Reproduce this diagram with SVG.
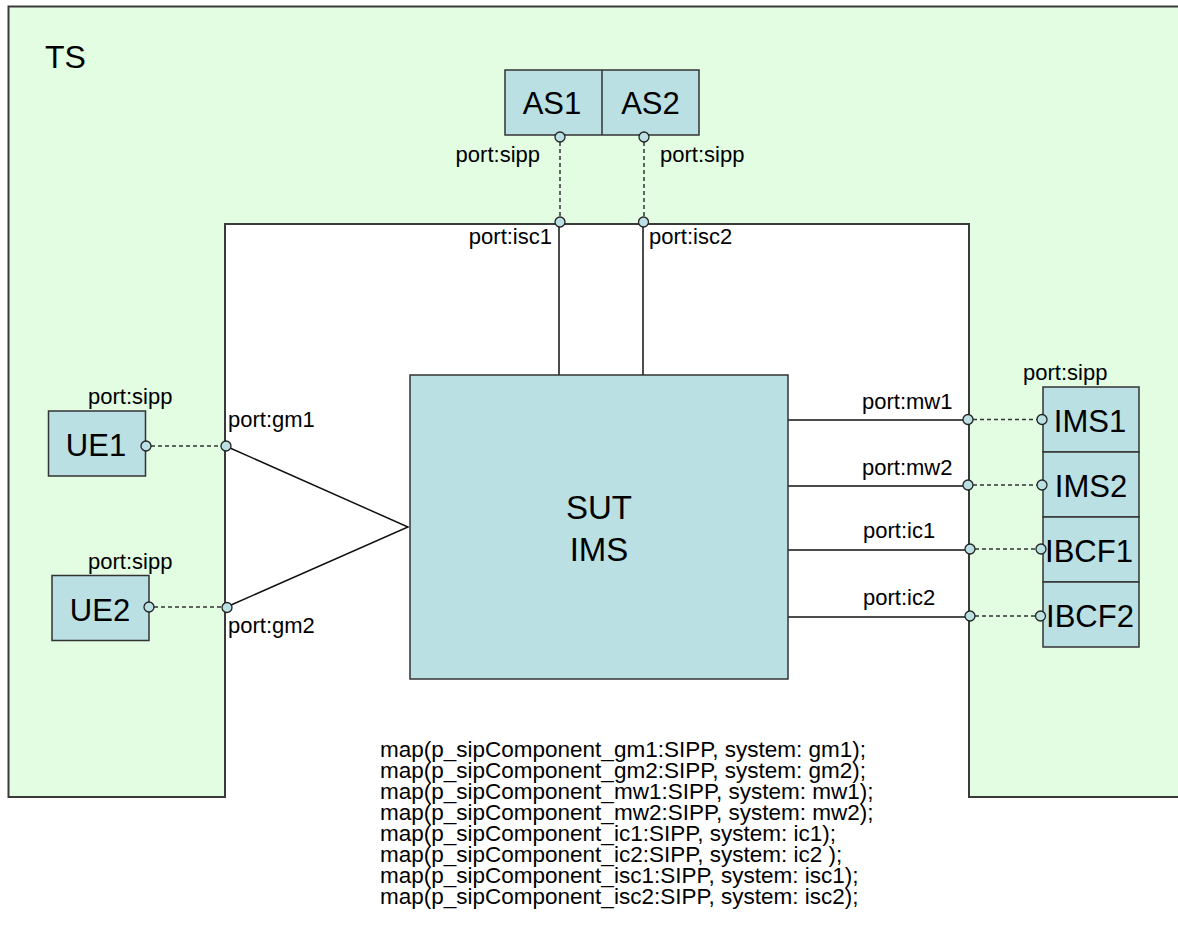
<svg xmlns="http://www.w3.org/2000/svg" width="1178" height="949" viewBox="0 0 1178 949">
<style>
.box{fill:#BBE0E3;stroke:#333;stroke-width:1.5}
.port{fill:#BBE0E3;stroke:#222;stroke-width:1.3}
.ln{stroke:#111;stroke-width:1.5;fill:none}
.dash{stroke:#333;stroke-width:1.5;stroke-dasharray:4 3;fill:none}
.big{font-family:"Liberation Sans",Arial,sans-serif;font-size:31px;fill:#000}
.sut{font-family:"Liberation Sans",Arial,sans-serif;font-size:33px;fill:#000}
.lbl{font-family:"Liberation Sans",Arial,sans-serif;font-size:22px;fill:#000}
.map{font-family:"Liberation Sans",Arial,sans-serif;font-size:22.5px;fill:#000}
</style>
<rect width="1178" height="949" fill="#fff"/>
<g id="TS">
<path d="M8.5,6.5 H1186 V797 H969 V224 H225 V797 H8.5 Z" fill="#E3FDE3" stroke="#3a3a3a" stroke-width="2"/>
<text class="sut" x="45" y="68" style="font-size:32px">TS</text>
</g>
<g id="connectors">
<line class="dash" x1="560" y1="142" x2="560" y2="217"/>
<line class="dash" x1="644" y1="142" x2="644" y2="217"/>
<line class="ln" x1="559" y1="227" x2="559" y2="375"/>
<line class="ln" x1="643" y1="227" x2="643" y2="375"/>
<line class="dash" x1="151" y1="446" x2="221" y2="446"/>
<line class="dash" x1="154" y1="607" x2="222" y2="607"/>
<polyline class="ln" points="230,448 408,527 231,605"/>
<line class="ln" x1="788" y1="420" x2="963" y2="420"/>
<line class="ln" x1="788" y1="486" x2="963" y2="486"/>
<line class="ln" x1="788" y1="550" x2="965" y2="550"/>
<line class="ln" x1="788" y1="617" x2="965" y2="617"/>
<line class="dash" x1="973" y1="419.5" x2="1037" y2="419.5"/>
<line class="dash" x1="973" y1="485" x2="1037" y2="485"/>
<line class="dash" x1="975" y1="549" x2="1036" y2="549"/>
<line class="dash" x1="975" y1="616" x2="1035" y2="616"/>
</g>
<g id="AS">
<rect class="box" x="505" y="70" width="194" height="65"/>
<line x1="602" y1="70" x2="602" y2="135" stroke="#333" stroke-width="1.5"/>
<text class="big" x="552" y="114" text-anchor="middle">AS1</text>
<text class="big" x="650.5" y="114" text-anchor="middle">AS2</text>
<circle class="port" cx="560" cy="137" r="5"/>
<circle class="port" cx="644" cy="137" r="5"/>
<text class="lbl" x="540" y="162" text-anchor="end">port:sipp</text>
<text class="lbl" x="660" y="162">port:sipp</text>
</g>
<g id="SUT">
<rect class="box" x="410" y="375" width="378" height="304"/>
<text class="sut" x="599" y="519" text-anchor="middle">SUT</text>
<text class="sut" x="599" y="561" text-anchor="middle">IMS</text>
<circle class="port" cx="560" cy="222" r="5"/>
<circle class="port" cx="643.5" cy="222" r="5"/>
<text class="lbl" x="552" y="244" text-anchor="end">port:isc1</text>
<text class="lbl" x="649" y="244">port:isc2</text>
<circle class="port" cx="226" cy="446" r="5"/>
<circle class="port" cx="227" cy="607.5" r="5"/>
<text class="lbl" x="228" y="427">port:gm1</text>
<text class="lbl" x="228" y="633">port:gm2</text>
<circle class="port" cx="968" cy="419.5" r="5"/>
<circle class="port" cx="968" cy="485" r="5"/>
<circle class="port" cx="970" cy="549" r="5"/>
<circle class="port" cx="970" cy="616" r="5"/>
<text class="lbl" x="862" y="409">port:mw1</text>
<text class="lbl" x="862" y="475">port:mw2</text>
<text class="lbl" x="863" y="538">port:ic1</text>
<text class="lbl" x="863" y="605">port:ic2</text>
</g>
<g id="UE1">
<rect class="box" x="48.5" y="411" width="97" height="65"/>
<text class="big" x="96" y="456" text-anchor="middle">UE1</text>
<circle class="port" cx="146" cy="446" r="5"/>
<text class="lbl" x="88" y="404">port:sipp</text>
</g>
<g id="UE2">
<rect class="box" x="52" y="575.5" width="97" height="65"/>
<text class="big" x="100" y="621" text-anchor="middle">UE2</text>
<circle class="port" cx="149" cy="607" r="5"/>
<text class="lbl" x="88" y="569">port:sipp</text>
</g>
<g id="IMS">
<rect class="box" x="1043" y="387" width="96" height="65"/>
<rect class="box" x="1043" y="452" width="96" height="65"/>
<rect class="box" x="1043" y="517" width="96" height="65"/>
<rect class="box" x="1043" y="582" width="96" height="65"/>
<text class="big" x="1090" y="432" text-anchor="middle">IMS1</text>
<text class="big" x="1091" y="497" text-anchor="middle">IMS2</text>
<text class="big" x="1089" y="562" text-anchor="middle">IBCF1</text>
<text class="big" x="1090" y="627" text-anchor="middle">IBCF2</text>
<circle class="port" cx="1042" cy="419.5" r="5"/>
<circle class="port" cx="1042" cy="485" r="5"/>
<circle class="port" cx="1041" cy="549" r="5"/>
<circle class="port" cx="1040.5" cy="616" r="5"/>
<text class="lbl" x="1023" y="380">port:sipp</text>
</g>
<g id="mapping">
<text class="map" x="380" y="757">map(p_sipComponent_gm1:SIPP, system: gm1);</text>
<text class="map" x="380" y="778">map(p_sipComponent_gm2:SIPP, system: gm2);</text>
<text class="map" x="380" y="799">map(p_sipComponent_mw1:SIPP, system: mw1);</text>
<text class="map" x="380" y="820">map(p_sipComponent_mw2:SIPP, system: mw2);</text>
<text class="map" x="380" y="841">map(p_sipComponent_ic1:SIPP, system: ic1);</text>
<text class="map" x="380" y="862">map(p_sipComponent_ic2:SIPP, system: ic2 );</text>
<text class="map" x="380" y="883">map(p_sipComponent_isc1:SIPP, system: isc1);</text>
<text class="map" x="380" y="904">map(p_sipComponent_isc2:SIPP, system: isc2);</text>
</g>
</svg>
